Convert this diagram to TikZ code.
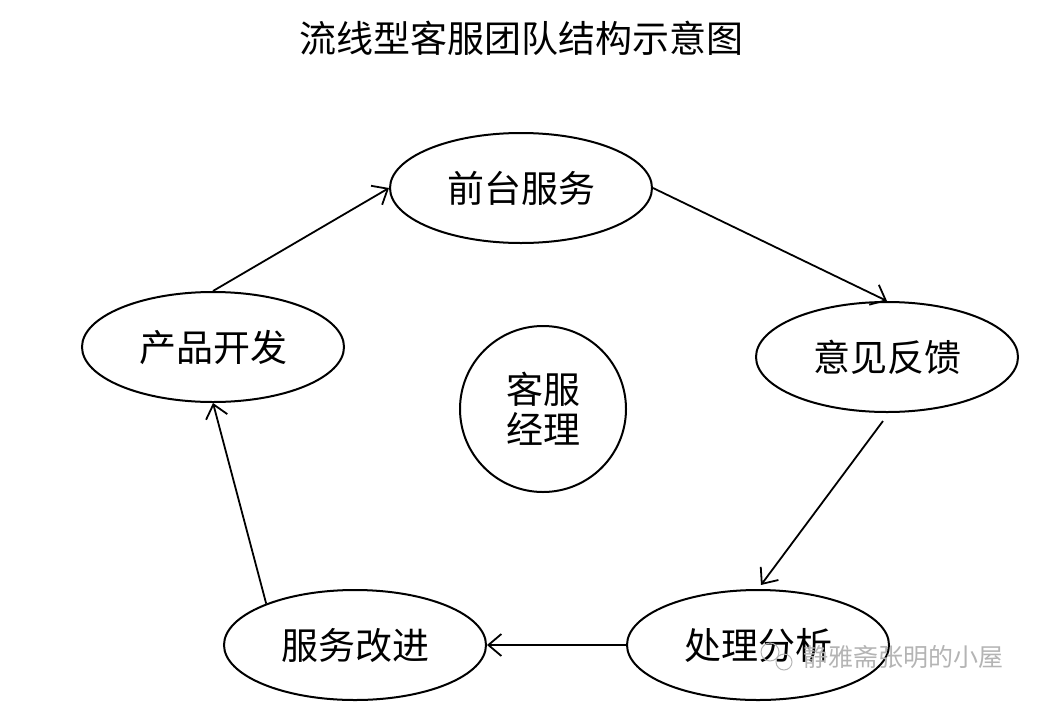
\documentclass[tikz,border=0pt]{standalone}
\usepackage{fontspec}
\setmainfont{Noto Sans CJK SC}
\usetikzlibrary{arrows.meta,shapes.geometric}
\definecolor{wmgray}{HTML}{B4B4B4}

\begin{document}
\begin{tikzpicture}[x=1pt, y=-1pt, every node/.style={font=\fontsize{37}{40}\selectfont},
    stage/.style={draw, line width=2pt, ellipse, minimum width=262pt, minimum height=110pt, inner sep=0pt},
    flow/.style={line width=1.8pt, -{Straight Barb[length=13pt, width=22pt, line width=1.8pt]}}]
        \useasboundingbox (0,0) rectangle (1041,707);
        \node at (521,38) {流线型客服团队结构示意图};
        \node[stage] (front) at (521,188) {前台服务};
        \node[stage] (feedback) at (887,357) {意见反馈};
        \node[stage] (analysis) at (758,645) {处理分析};
        \node[stage] (improve) at (355,645) {服务改进};
        \node[stage] (develop) at (213,347) {产品开发};
        \node[draw, line width=2pt, circle, minimum size=166pt, inner sep=0pt, align=center] (manager) at (543,409) {客服\\经理};
        \draw[flow] (develop.north) -- (front.west);
        \draw[flow] (front.east) -- (feedback.north);
        \draw[flow, shorten <=10pt, shorten >=5pt] (feedback.-88) -- (analysis.north);
        \draw[flow] (analysis.west) -- (improve.east);
        \draw[flow] (improve.155) -- (develop.south);
        % watermark
        \draw[wmgray, line width=1pt] (770,652) circle (9) (784,662) circle (8);
        \node[wmgray, font=\fontsize{25}{28}\selectfont] (wmark) at (903,657) {静雅斋张明的小屋};
      \end{tikzpicture}
\end{document}
